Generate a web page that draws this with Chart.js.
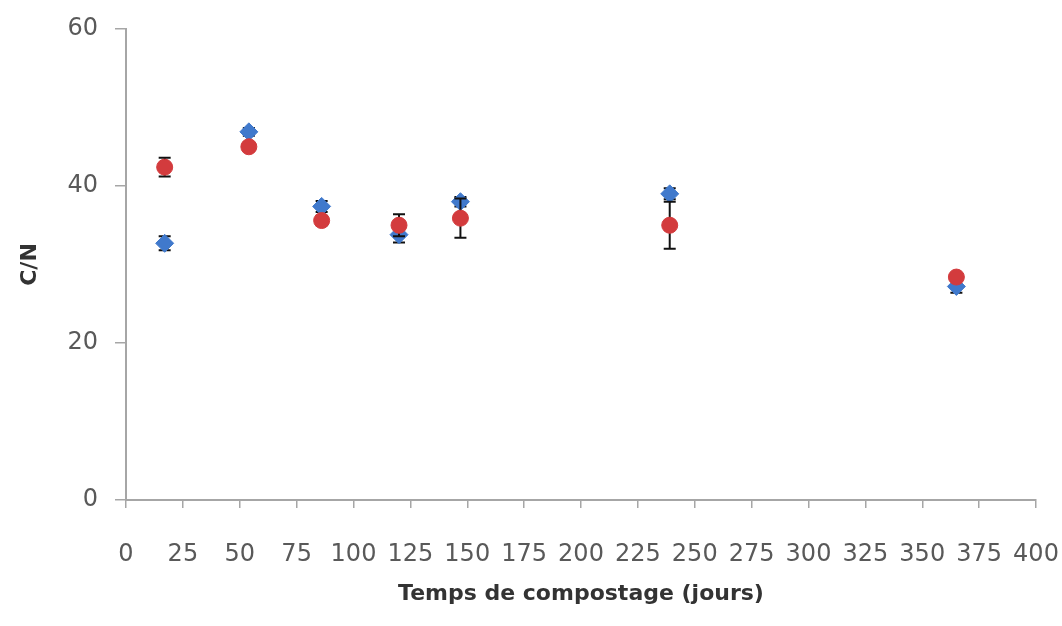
<!DOCTYPE html>
<html>
<head>
<meta charset="utf-8">
<script src="https://cdn.jsdelivr.net/npm/chart.js@4/dist/chart.umd.min.js"></script>
<style>
  html, body { margin: 0; padding: 0; background: #ffffff; }
  #wrap { width: 1062px; height: 626px; position: relative; }
</style>
</head>
<body>
<div id="wrap"><canvas id="cn"></canvas></div>
<script>
// Sampling days and C/N ratio measured for two compost piles (mean ± error)
const days     = [17, 54, 86, 120, 147, 239, 365];
const cnPileA  = [32.7, 46.9, 37.4, 33.8, 38.0, 39.0, 27.2];   // blue diamonds
const errPileA = [0.9, 0.5, 0.7, 1.0, 0.6, 0.7, 0.8];
const cnPileB  = [42.4, 45.0, 35.6, 35.0, 35.9, 35.0, 28.4];   // red circles
const errPileB = [1.2, 0.5, 0.6, 1.4, 2.5, 3.0, 0.5];

const xTicks = [0, 25, 50, 75, 100, 125, 150, 175, 200, 225, 250, 275, 300, 325, 350, 375, 400];
const yTicks = [0, 20, 40, 60];

const AXIS_GREY = '#a6a6a6';
const BLUE = '#4079cc';
const RED = '#d33b3d';

function toPoints(xs, ys, es) {
  return xs.map((x, i) => ({ x: x, y: ys[i], err: es[i] }));
}

// Vertical error bars with caps, drawn just before each dataset's markers
const errorBars = {
  id: 'errorBars',
  beforeDatasetDraw(chart, args) {
    const ctx = chart.ctx;
    const xs = chart.scales.x, ys = chart.scales.y;
    const data = chart.data.datasets[args.index].data;
    ctx.save();
    ctx.strokeStyle = '#111111';
    ctx.lineWidth = 2;
    const cap = 6;
    data.forEach(p => {
      const px = xs.getPixelForValue(p.x);
      const top = ys.getPixelForValue(p.y + p.err);
      const bot = ys.getPixelForValue(p.y - p.err);
      ctx.beginPath();
      ctx.moveTo(px, top); ctx.lineTo(px, bot);
      ctx.moveTo(px - cap, top); ctx.lineTo(px + cap, top);
      ctx.moveTo(px - cap, bot); ctx.lineTo(px + cap, bot);
      ctx.stroke();
    });
    ctx.restore();
  }
};

new Chart(document.getElementById('cn'), {
  type: 'scatter',
  data: {
    datasets: [
      {
        label: 'Andain B',
        data: toPoints(days, cnPileB, errPileB),
        pointStyle: 'circle',
        pointRadius: 8,
        pointHoverRadius: 8,
        backgroundColor: RED,
        borderColor: RED,
        borderWidth: 1
      },
      {
        label: 'Andain A',
        data: toPoints(days, cnPileA, errPileA),
        pointStyle: 'rectRot',
        pointRadius: 9,
        pointHoverRadius: 9,
        backgroundColor: BLUE,
        borderColor: BLUE,
        borderWidth: 1
      }
    ]
  },
  options: {
    responsive: true,
    maintainAspectRatio: false,
    animation: false,
    layout: { padding: 0 },
    plugins: {
      legend: { display: false },
      tooltip: { enabled: false }
    },
    scales: {
      x: {
        type: 'linear',
        min: 0,
        max: 400,
        afterBuildTicks(scale) { scale.ticks = xTicks.map(v => ({ value: v })); },
        afterFit(scale) {
          scale.height = 126;
          scale.paddingLeft = 0;
          scale.paddingRight = 26;
        },
        grid: {
          display: true,
          drawOnChartArea: false,
          drawTicks: true,
          tickLength: 8,
          tickColor: AXIS_GREY,
          lineWidth: 1.5
        },
        border: { display: true, color: AXIS_GREY, width: 2 },
        ticks: {
          color: '#595959',
          font: { family: 'DejaVu Sans', size: 24 },
          padding: 32,
          maxRotation: 0,
          autoSkip: false
        },
        title: {
          display: true,
          text: 'Temps de compostage (jours)',
          color: '#333333',
          font: { family: 'DejaVu Sans', size: 22, weight: 'bold' },
          padding: { top: 19, bottom: 19 }
        }
      },
      y: {
        type: 'linear',
        min: 0,
        max: 60,
        afterBuildTicks(scale) { scale.ticks = yTicks.map(v => ({ value: v })); },
        afterFit(scale) {
          scale.width = 126;
          scale.paddingTop = 29;
          scale.paddingBottom = 0;
        },
        grid: {
          display: true,
          drawOnChartArea: false,
          drawTicks: true,
          tickLength: 11,
          tickColor: AXIS_GREY,
          lineWidth: 1.5
        },
        border: { display: true, color: AXIS_GREY, width: 2 },
        ticks: {
          color: '#595959',
          font: { family: 'DejaVu Sans', size: 24 },
          padding: 17
        },
        title: {
          display: true,
          text: 'C/N',
          color: '#333333',
          font: { family: 'DejaVu Sans', size: 22, weight: 'bold' },
          padding: { top: 17, bottom: 17 }
        }
      }
    }
  },
  plugins: [errorBars]
});
</script>
</body>
</html>
